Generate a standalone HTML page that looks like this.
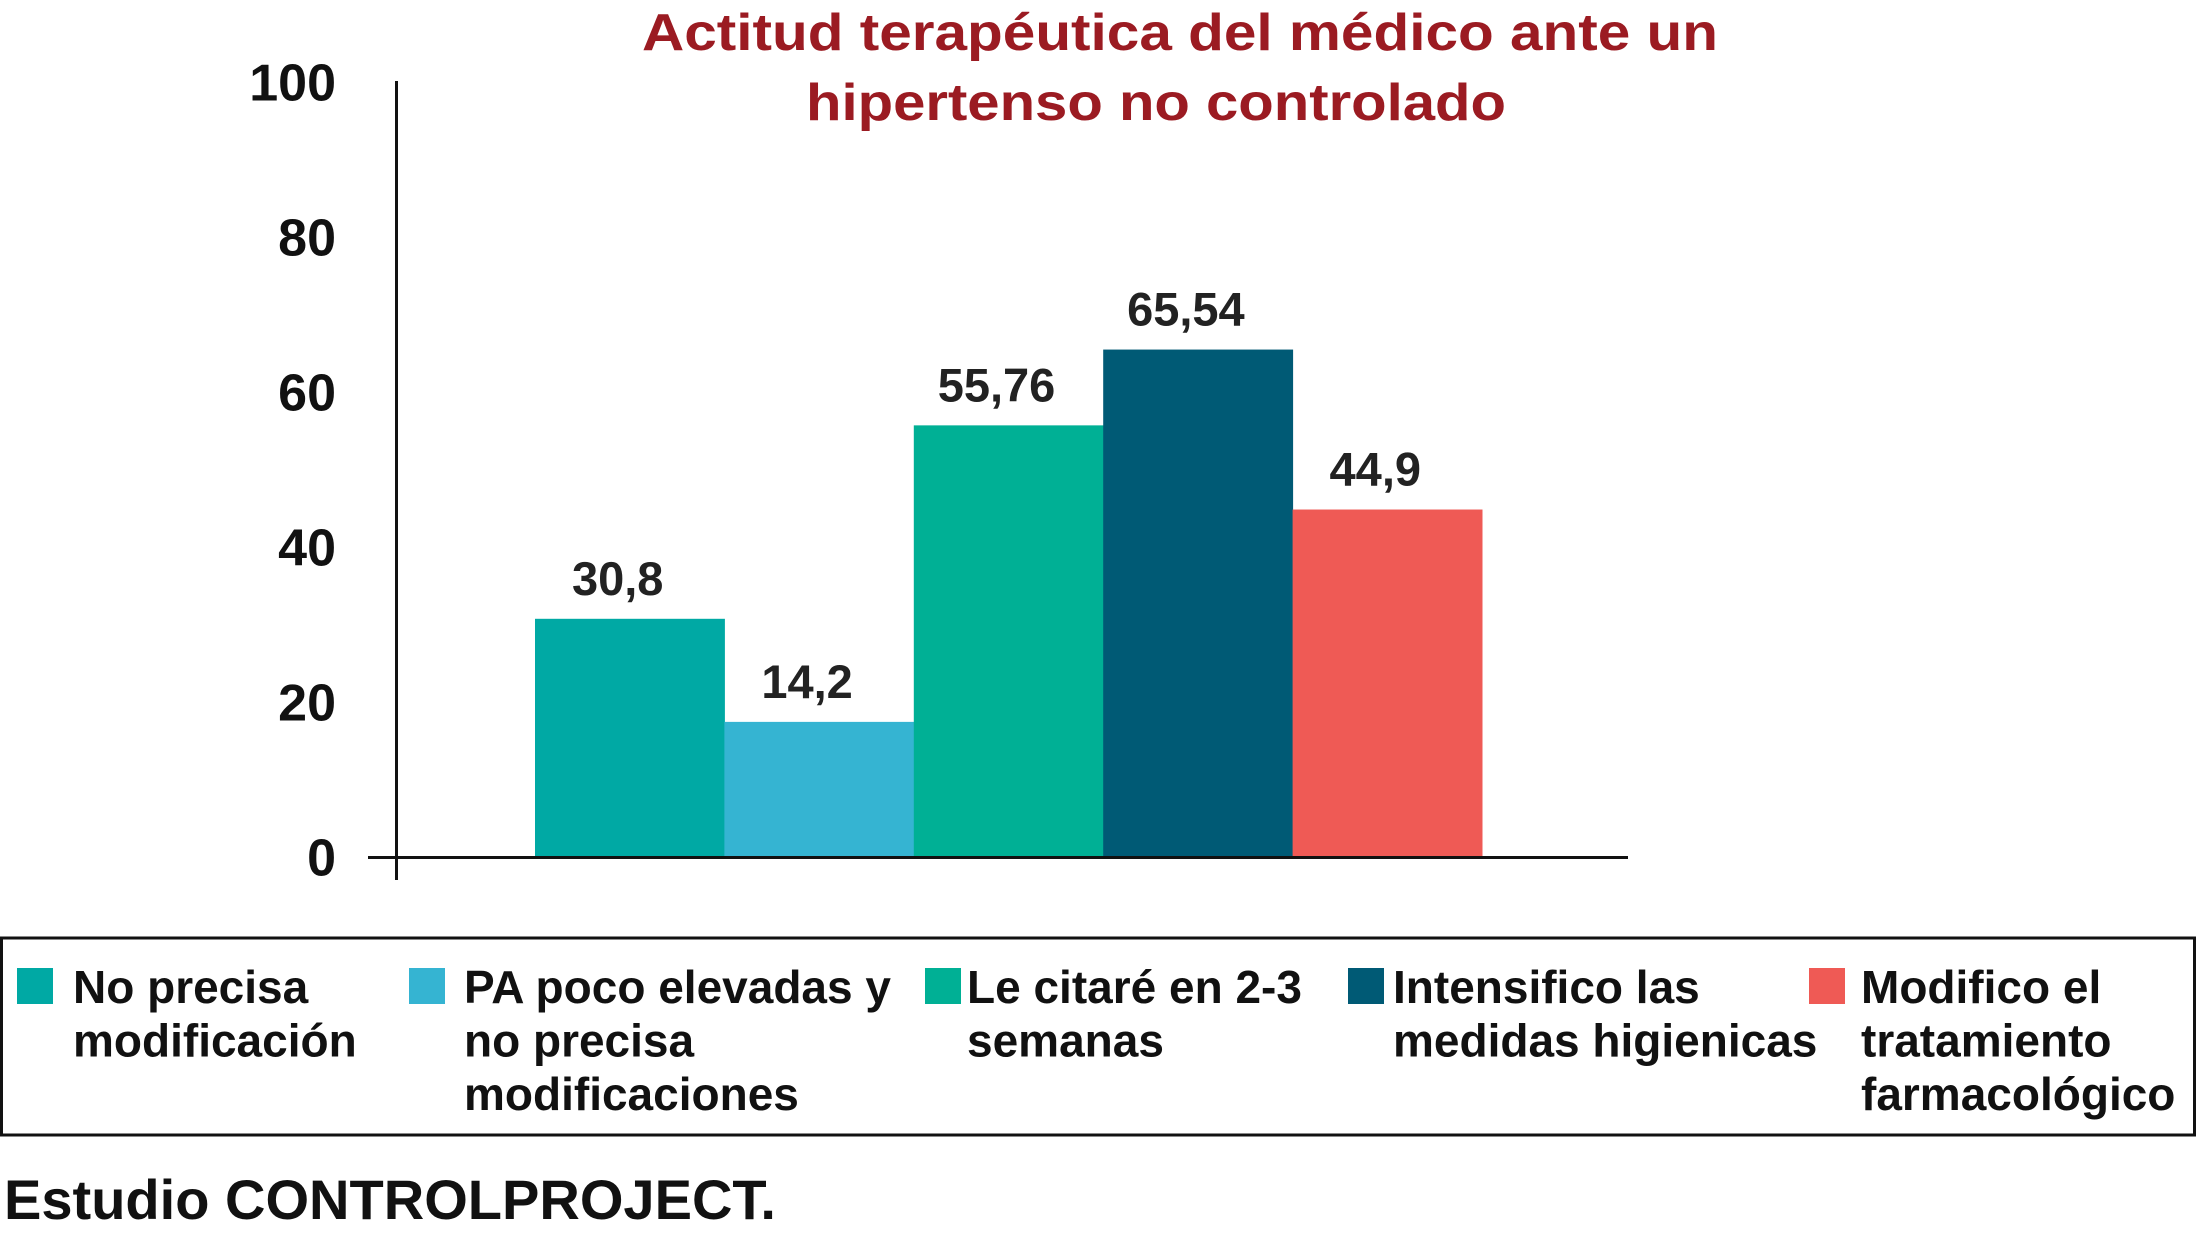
<!DOCTYPE html>
<html><head><meta charset="utf-8"><style>
html,body{margin:0;padding:0;background:#fff;}
svg{display:block;}
text{font-family:"Liberation Sans",sans-serif;font-weight:bold;}
.n{font-family:"Liberation Sans Narrow","Liberation Sans",sans-serif;}
</style></head><body>
<svg id="chart" width="2197" height="1233" viewBox="0 0 2197 1233" xmlns="http://www.w3.org/2000/svg">
<text x="1180" y="50" text-anchor="middle" font-size="52" fill="#9b1b22" textLength="1076" lengthAdjust="spacingAndGlyphs">Actitud terapéutica del médico ante un</text>
<text x="1156" y="120" text-anchor="middle" font-size="52" fill="#9b1b22" textLength="700" lengthAdjust="spacingAndGlyphs">hipertenso no controlado</text>
<g id="ticks"></g><g id="bars"></g>
<line x1="396.5" y1="81" x2="396.5" y2="880" stroke="#111" stroke-width="3"/>
<line x1="368" y1="857.5" x2="1628" y2="857.5" stroke="#111" stroke-width="3"/>
<rect x="1.5" y="938" width="2193" height="197" fill="none" stroke="#111" stroke-width="3"/>
<g id="legend"></g>
<text class="n" x="4" y="1219" font-size="56" fill="#111" textLength="772" lengthAdjust="spacingAndGlyphs">Estudio CONTROLPROJECT.</text>
</svg>
<script>
const categories=["No precisa modificación","PA poco elevadas y no precisa modificaciones","Le citaré en 2-3 semanas","Intensifico las medidas higienicas","Modifico el tratamiento farmacológico"];
const values=[30.8,17.5,55.76,65.54,44.9];
const valueLabels=["30,8","14,2","55,76","65,54","44,9"];
const colors=["#00a9a4","#35b4d2","#00b095","#005a75","#ef5a55"];
const yTicks=[0,20,40,60,80,100];
const legendLines=[["No precisa","modificación"],["PA poco elevadas y","no precisa","modificaciones"],["Le citaré en 2-3","semanas"],["Intensifico las","medidas higienicas"],["Modifico el","tratamiento","farmacológico"]];
const NS="http://www.w3.org/2000/svg";
const y0=857.5, pxPerUnit=7.75, x0=535, bw=189.4;
function yS(v){return y0-v*pxPerUnit;}
function xS(i){return x0+i*bw;}
function mk(tag,attrs,parent,txt){const e=document.createElementNS(NS,tag);for(const k in attrs)e.setAttribute(k,attrs[k]);if(txt!==undefined)e.textContent=txt;parent.appendChild(e);return e;}
const tg=document.getElementById('ticks');
yTicks.forEach(t=>{
  const tx=mk('text',{x:336,y:yS(t)+18,'text-anchor':'end','font-size':52,fill:'#111'},tg,String(t));
  
  
});
const bg=document.getElementById('bars');
values.forEach((v,i)=>{
  const r=mk('rect',{x:xS(i),y:yS(v),width:bw+0.5,height:y0-yS(v)-1.5,fill:colors[i]},bg);
  
  
  const t=mk('text',{x:xS(i)+bw/2-12,y:yS(v)-24,'text-anchor':'middle','font-size':47,fill:'#222'},bg,valueLabels[i]);
  
  
});
const lg=document.getElementById('legend');
const sqX=[17,409,925,1348,1809], txX=[73,464,967,1393,1861];
categories.forEach((c,i)=>{
  const s=mk('rect',{x:sqX[i],y:968,width:36,height:36,fill:colors[i]},lg);
  
  
  legendLines[i].forEach((ln,j)=>{
    const t=mk('text',{class:'n',x:txX[i],y:1003+j*53.5,'font-size':46,fill:'#111'},lg,ln);
    
    
  });
});
</script>
</body></html>
